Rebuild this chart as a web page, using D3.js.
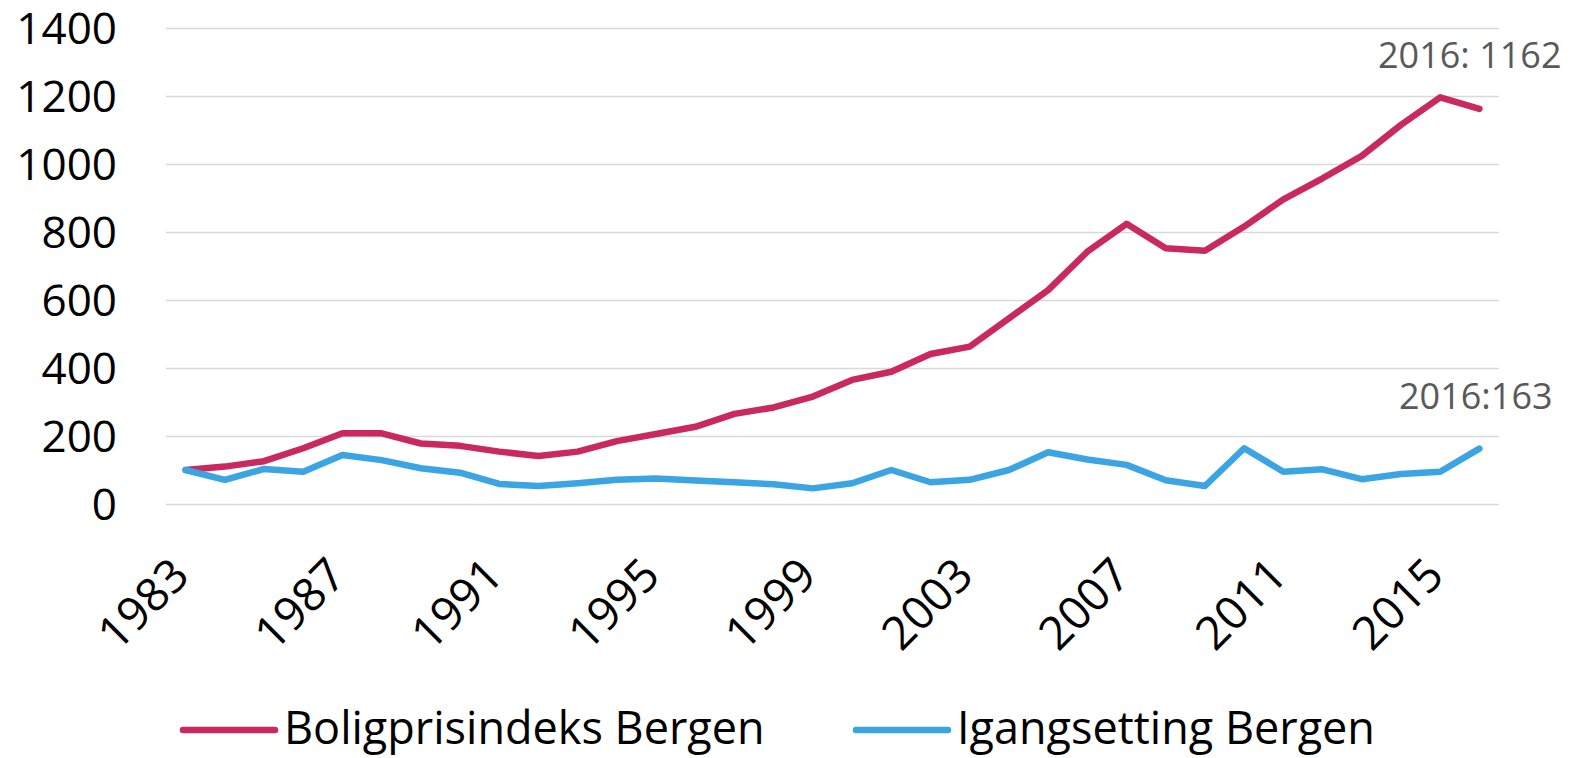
<!doctype html>
<html>
  <head>
    <meta charset="utf-8">
    <script src="https://d3js.org/d3.v7.min.js"></script>
    <style type='text/css'>
      body{ margin:0; background:#fff; }
      text{ font-family:'Open Sans', sans-serif; }
      g.grid line{
        stroke:#d9d9d9;
        stroke-width:1.5px;
      }
      path.domain{ display:none; }
    </style>
  </head>
  <body>
    <svg id='chart'></svg>
    <script type='text/javascript'>
      var years = [1983,1984,1985,1986,1987,1988,1989,1990,1991,1992,1993,1994,1995,1996,1997,1998,1999,
                   2000,2001,2002,2003,2004,2005,2006,2007,2008,2009,2010,2011,2012,2013,2014,2015,2016];
      var bolig = [100,110,126,164,208,208,178,171,154,141,154,185,206,227,265,284,316,
                   365,389,441,463,546,629,742,824,752,745,816,896,958,1024,1115,1196,1162];
      var igang = [100,71,103,95,144,129,105,92,59,53,61,71,75,69,64,58,46,
                   61,100,64,71,100,152,131,115,70,53,164,95,102,73,88,95,163];
      var xTickYears = [1983,1987,1991,1995,1999,2003,2007,2011,2015];
      var yTicks = [0,200,400,600,800,1000,1200,1400];
      var seriesNames = ['Boligprisindeks Bergen','Igangsetting Bergen'];
      var colors = ['#c9295f','#3ba4e3'];

      var w = 1578, h = 758;
      var pLeft = 166, pRight = 1499, pTop = 28, pBottom = 504;
      var svg = d3.select('svg').attr('width',w).attr('height',h);

      var xScale = d3.scalePoint().domain(years).range([pLeft,pRight]).padding(0.5);
      var yScale = d3.scaleLinear().domain([0,1400]).range([pBottom,pTop]);

      // grid + y labels
      var yAxis = d3.axisLeft(yScale).tickValues(yTicks).tickFormat(d3.format('d'))
                    .tickSize(-(pRight-pLeft)).tickPadding(49);
      var yG = svg.append('g').attr('class','grid').attr('transform','translate('+pLeft+',0)').call(yAxis);
      yG.selectAll('text').style('font-size','44px').style('fill','#000')
        .style('font-family',"'Open Sans', sans-serif").attr('dy','0.35em');

      // x labels, rotated
      svg.append('g').selectAll('text.xl')
        .data(xTickYears).enter()
        .append('text').attr('class','xl')
        .attr('transform',(d)=>'translate('+(xScale(d)+6)+',578) rotate(-45)')
        .attr('text-anchor','end')
        .style('font-size','46px')
        .text((d)=>d);

      var line = d3.line().x((d,i)=>xScale(years[i])).y((d)=>yScale(d));
      [bolig,igang].forEach((s,k)=>{
        svg.append('path').datum(s)
          .attr('d',line)
          .attr('fill','none')
          .attr('stroke',colors[k])
          .attr('stroke-width',6.5)
          .attr('stroke-linejoin','round')
          .attr('stroke-linecap','round');
      });

      // end labels
      var last = years.length-1;
      svg.append('text').attr('x',1378).attr('y',68)
        .style('font-size','36px').style('fill','#595959')
        .text(years[last]+': '+bolig[last]);
      svg.append('text').attr('x',1399).attr('y',409)
        .style('font-size','36px').style('fill','#595959')
        .text(years[last]+':'+igang[last]);

      // legend
      var legX = [183,856];
      var leg = svg.append('g').selectAll('g.leg')
        .data(seriesNames).enter()
        .append('g').attr('class','leg')
        .attr('transform',(d,i)=>'translate('+legX[i]+',730)');
      leg.append('line').attr('x1',0).attr('x2',92).attr('y1',0).attr('y2',0)
        .attr('stroke',(d,i)=>colors[i]).attr('stroke-width',6.5).attr('stroke-linecap','round');
      leg.append('text').attr('x',101).attr('y',14)
        .style('font-size','45px').style('fill','#000')
        .text((d)=>d);
    </script>
  </body>
</html>
